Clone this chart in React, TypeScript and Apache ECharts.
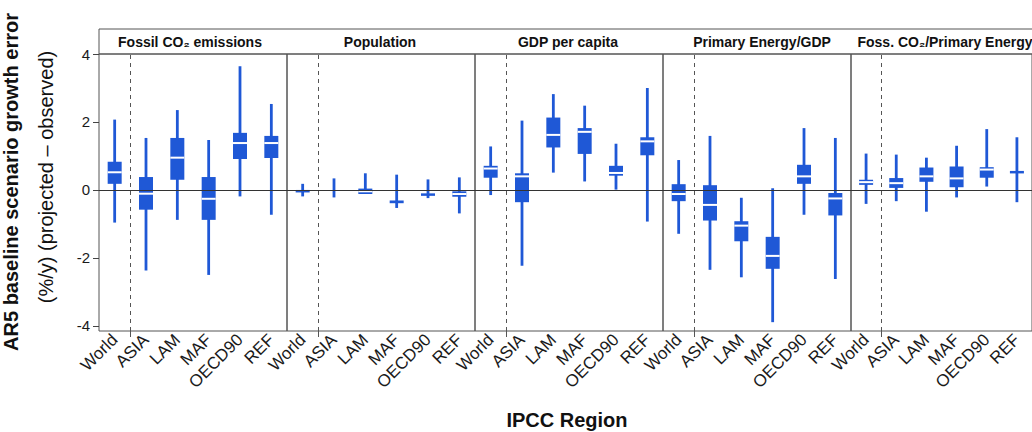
import React, { useEffect, useRef } from 'react';
import * as echarts from 'echarts';

const regions = ['World', 'ASIA', 'LAM', 'MAF', 'OECD90', 'REF'];
const regionPositions = [0, 1, 2, 3, 4, 5];
const worldSeparator = 0.5;
const panelTitles = ['Fossil CO₂ emissions', 'Population', 'GDP per capita', 'Primary Energy/GDP', 'Foss. CO₂/Primary Energy'];
const yTicks = [-4, -2, 0, 2, 4];

// [min, q1, median, q3, max] per region
const fossilCO2 = [
  [-0.96, 0.18, 0.52, 0.83, 2.07],
  [-2.37, -0.58, -0.11, 0.38, 1.53],
  [-0.88, 0.3, 0.95, 1.53, 2.35],
  [-2.5, -0.88, -0.26, 0.38, 1.47],
  [-0.19, 0.91, 1.38, 1.68, 3.64],
  [-0.73, 0.94, 1.38, 1.59, 2.53],
];
const population = [
  [-0.19, -0.06, -0.03, 0.0, 0.18],
  [-0.22, 0.0, 0.0, 0.0, 0.34],
  [-0.12, -0.12, -0.04, 0.04, 0.49],
  [-0.53, -0.39, -0.35, -0.31, 0.45],
  [-0.24, -0.17, -0.13, -0.1, 0.31],
  [-0.69, -0.2, -0.12, -0.04, 0.37],
];
const gdpPerCapita = [
  [-0.15, 0.36, 0.63, 0.71, 1.28],
  [-2.23, -0.36, 0.4, 0.49, 2.04],
  [0.51, 1.25, 1.62, 2.13, 2.82],
  [0.25, 1.06, 1.71, 1.82, 2.48],
  [0.01, 0.42, 0.5, 0.71, 1.36],
  [-0.93, 1.02, 1.43, 1.55, 3.0],
];
const primaryEnergyPerGdp = [
  [-1.29, -0.33, -0.12, 0.17, 0.88],
  [-2.35, -0.9, -0.44, 0.14, 1.59],
  [-2.57, -1.51, -1.05, -0.92, -0.23],
  [-3.89, -2.32, -1.94, -1.38, 0.05],
  [-0.73, 0.18, 0.4, 0.74, 1.82],
  [-2.62, -0.75, -0.25, -0.09, 1.53],
];
const co2PerPrimaryEnergy = [
  [-0.41, 0.15, 0.23, 0.3, 1.07],
  [-0.33, 0.06, 0.2, 0.35, 1.04],
  [-0.64, 0.24, 0.4, 0.66, 0.95],
  [-0.22, 0.08, 0.34, 0.69, 1.3],
  [0.1, 0.36, 0.6, 0.67, 1.79],
  [-0.36, 0.52, 0.54, 0.56, 1.55],
];

const panels = [fossilCO2, population, gdpPerCapita, primaryEnergyPerGdp, co2PerPrimaryEnergy];

const BLUE = '#1f58d6';
const FONT = '"Liberation Sans", Arial, Helvetica, sans-serif';

export default function App() {
  const ref = useRef<HTMLDivElement>(null);
  useEffect(() => {
    if (!ref.current) return;
    const chart = echarts.init(ref.current, null, { renderer: 'svg' });
    const pLeft = 99;
    const pWidth = 188;
    const pTop = 54;
    const pHeight = 277;

    const grids = panels.map((_, i) => ({
      left: pLeft + pWidth * i,
      top: pTop,
      width: pWidth,
      height: pHeight,
      show: true,
      borderColor: '#555',
      borderWidth: 1,
      backgroundColor: 'transparent',
    }));

    const xAxes = panels.map((_, i) => ({
      type: 'value',
      gridIndex: i,
      position: 'bottom',
      min: -0.5,
      max: 5.5,
      axisLine: { show: false, onZero: false },
      splitLine: { show: false },
      axisTick: { show: true, customValues: [worldSeparator], length: 6, lineStyle: { color: '#555' } },
      axisLabel: {
        customValues: regionPositions,
        formatter: (v: number) => regions[Math.round(v)] ?? '',
        rotate: 45,
        fontSize: 17,
        color: '#1a1a1a',
        margin: 6,
        fontFamily: FONT,
      },
    }));

    const yAxes = panels.map((_, i) => ({
      type: 'value',
      gridIndex: i,
      position: 'left',
      min: -4.15,
      max: 4,
      axisLine: { show: false, onZero: false },
      splitLine: { show: false },
      axisTick: { show: i === 0, length: 6, customValues: yTicks, lineStyle: { color: '#444' } },
      axisLabel: {
        show: i === 0,
        customValues: yTicks,
        formatter: (v: number) => String(v),
        fontSize: 15,
        color: '#1a1a1a',
        margin: 9,
        fontFamily: FONT,
      },
    }));

    const series = panels.map((data, i) => ({
      type: 'custom',
      xAxisIndex: i,
      yAxisIndex: i,
      data: data.map((d, j) => [regionPositions[j], ...d]),
      encode: { x: 0, y: [1, 2, 3, 4, 5] },
      renderItem: (params: any, api: any) => {
        const xi = api.value(0);
        const pMin = api.coord([xi, api.value(1)]);
        const pQ1 = api.coord([xi, api.value(2)]);
        const pMed = api.coord([xi, api.value(3)]);
        const pQ3 = api.coord([xi, api.value(4)]);
        const pMax = api.coord([xi, api.value(5)]);
        const cx = pMed[0];
        const bw = 14;
        const children: any[] = [
          { type: 'line', shape: { x1: cx, y1: pMax[1], x2: cx, y2: pMin[1] }, style: { stroke: BLUE, lineWidth: 2.8 } },
        ];
        const h = pQ1[1] - pQ3[1];
        if (h > 0.5) {
          children.push({ type: 'rect', shape: { x: cx - bw / 2, y: pQ3[1], width: bw, height: Math.max(h, 2.5) }, style: { fill: BLUE } });
        }
        if (h >= 4) {
          children.push({ type: 'line', shape: { x1: cx - bw / 2, y1: pMed[1], x2: cx + bw / 2, y2: pMed[1] }, style: { stroke: '#fff', lineWidth: 2 } });
        }
        return { type: 'group', children };
      },
      markLine: {
        silent: true,
        symbol: ['none', 'none'],
        label: { show: false },
        animation: false,
        data: [
          { yAxis: 0, lineStyle: { color: '#333', width: 1, type: 'solid' } },
          { xAxis: worldSeparator, lineStyle: { color: '#555', width: 1, type: [4, 4] } },
        ],
      },
    }));

    const titleCenters = [190, 380, 568, 762, 945];

    const graphic: any[] = [
      { type: 'rect', shape: { x: pLeft, y: 29, width: 960, height: 25 }, style: { fill: 'none', stroke: '#555', lineWidth: 1 } },
      ...panelTitles.map((t, i) => ({
        type: 'text',
        x: titleCenters[i],
        y: 42,
        style: { text: t, textAlign: 'center', textVerticalAlign: 'middle', font: `bold 14px ${FONT}`, fill: '#111' },
      })),
      {
        type: 'text', x: 11, y: 182, rotation: Math.PI / 2,
        style: { text: 'AR5 baseline scenario growth error', textAlign: 'center', textVerticalAlign: 'middle', font: `bold 20px ${FONT}`, fill: '#111' },
      },
      {
        type: 'text', x: 46, y: 177, rotation: Math.PI / 2,
        style: { text: '(%/y) (projected – observed)', textAlign: 'center', textVerticalAlign: 'middle', font: `20px ${FONT}`, fill: '#111' },
      },
      {
        type: 'text', x: 567, y: 420,
        style: { text: 'IPCC Region', textAlign: 'center', textVerticalAlign: 'middle', font: `bold 20px ${FONT}`, fill: '#111' },
      },
    ];

    chart.setOption({
      animation: false,
      backgroundColor: '#fff',
      grid: grids,
      xAxis: xAxes,
      yAxis: yAxes,
      series,
      graphic,
    });
    return () => chart.dispose();
  }, []);
  return <div ref={ref} style={{ position: 'absolute', left: 0, top: 0, width: 1032, height: 432 }} />;
}
